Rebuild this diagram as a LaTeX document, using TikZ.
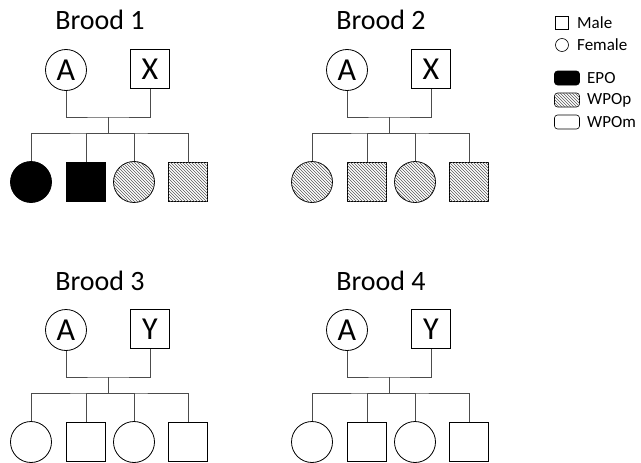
\documentclass[tikz,border=0pt]{standalone}
\usepackage{fontspec}
\setmainfont{Carlito}
\usetikzlibrary{positioning,patterns}
\tikzset{
  female/.style={draw,thick,circle,minimum size=41pt,inner sep=0pt},
  male/.style={draw,thick,rectangle,minimum size=39pt,inner sep=0pt},
  link/.style={black!70,line width=0.9pt},
  title/.style={anchor=base,font=\fontsize{28}{30}\selectfont},
  letter/.style={font=\fontsize{32}{34}\selectfont},
  epo/.style={fill=black},
  wpop/.style={fill=white,postaction={pattern=north west lines,pattern color=black!65}},
  wpom/.style={fill=white},
  legtext/.style={anchor=west,font=\fontsize{17}{19}\selectfont,inner sep=0pt},
}
% one brood: shift x, shift y, number, father, then the four offspring
\newcommand{\brood}[8]{%
  \begin{scope}[shift={(#1,#2)},name prefix=b#3-]
    \node[title] (t) at (100,30) {Brood #3};
    \node[female,letter] (A) at (66,70) {A};
    \node[male,letter] (F) at (150,69) {#4};
    \coordinate (J) at (108,117);
    \coordinate (K) at (108,133);
    \node[female,#5] (c1) at (31,182) {};
    \node[male,#6] (c2) at (86,182) {};
    \node[female,#7] (c3) at (134,182) {};
    \node[male,#8] (c4) at (188,182) {};
    \draw[link] (A) |- (J) -| (F);
    \draw[link] (J) -- (K);
    \draw[link] (c1) |- (K) -| (c4);
    \draw[link] (K) -| (c2);
    \draw[link] (K) -| (c3);
  \end{scope}}

\begin{document}
\begin{tikzpicture}[x=1pt,y=-1pt]
	\useasboundingbox (0,0) rectangle (641,463);
	
	\brood{0}{0}{1}{X}{epo}{epo}{wpop}{wpop}
	\brood{281}{0}{2}{X}{wpop}{wpop}{wpop}{wpop}
	\brood{0}{260}{3}{Y}{wpom}{wpom}{wpom}{wpom}
	\brood{281}{260}{4}{Y}{wpom}{wpom}{wpom}{wpom}
	
	% legend
	\node[draw,semithick,minimum size=13pt,inner sep=0pt] (lm) at (562,23) {};
	\node[legtext] (lmt) at (577,23) {Male};
	\node[draw,semithick,circle,minimum size=13pt,inner sep=0pt] (lf) at (562,45) {};
	\node[legtext] (lft) at (577,45) {Female};
	\node[draw,semithick,rounded corners=3pt,minimum width=25pt,minimum height=14pt,inner sep=0pt,epo] (le) at (567,78) {};
	\node[legtext] (let) at (587,78) {EPO};
	\node[draw,semithick,rounded corners=3pt,minimum width=25pt,minimum height=14pt,inner sep=0pt,wpop] (lp) at (567,100) {};
	\node[legtext] (lpt) at (587,100) {WPOp};
	\node[draw,semithick,rounded corners=3pt,minimum width=25pt,minimum height=14pt,inner sep=0pt,wpom] (lo) at (567,122) {};
	\node[legtext] (lot) at (587,122) {WPOm};

\end{tikzpicture}
\end{document}
